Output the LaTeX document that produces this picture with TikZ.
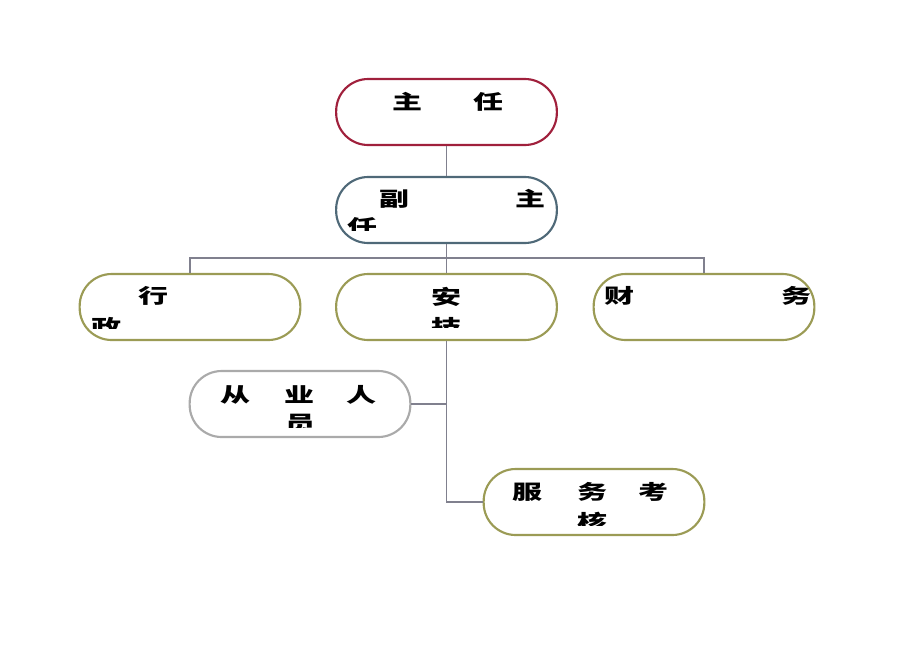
\documentclass[tikz,border=0pt]{standalone}
\usepackage{fontspec}
\newfontfamily\cjk[FakeStretch=1.5]{Noto Sans CJK SC}
\definecolor{redline}{RGB}{160,32,60}
\definecolor{slateline}{RGB}{79,105,120}
\definecolor{oliveline}{RGB}{155,155,85}
\definecolor{grayline}{RGB}{170,170,170}
\definecolor{connline}{RGB}{128,128,142}
\begin{document}
\begin{tikzpicture}[x=0.75pt,y=-0.75pt,
  box/.style={draw, line width=1.6pt, rounded corners=24pt, minimum width=165.5pt, minimum height=49.5pt, inner sep=0pt},
  conn/.style={draw=connline, line width=0.8pt},
  ch/.style={inner sep=0pt, font=\cjk\bfseries\fontsize{15pt}{15pt}\selectfont}]
\useasboundingbox (0,0) rectangle (920,651);
% boxes
\node[box, draw=redline]   (A) at (446.5,112) {};
\node[box, draw=slateline] (B) at (446.5,210) {};
\node[box, draw=oliveline] (C) at (190,307) {};
\node[box, draw=oliveline] (D) at (446.5,307) {};
\node[box, draw=oliveline] (E) at (704,307) {};
\node[box, draw=grayline]  (F) at (300,404) {};
\node[box, draw=oliveline] (G) at (594,502) {};
% connectors
\coordinate (bus) at (446.5,258);
\draw[conn] (A.south) -- (B.north);
\draw[conn] (B.south) -- (D.north);
\draw[conn] (C.north) |- (bus) -| (E.north);
\draw[conn] (D.south) |- (G.west);
\draw[conn] (F.east) -| (D.south);
% texts
\node[ch] (a1) at (407,102) {主};
\node[ch] (a2) at (488,102) {任};
\node[ch] (b1) at (394,199) {副};
\node[ch] (b2) at (530,199) {主};
\begin{scope}\clip (330,212) rectangle (400,230);
\node[ch] (b3) at (362,226.5) {任};\end{scope}
\node[ch] (c1) at (153,296) {行};
\begin{scope}\clip (75,312) rectangle (140,328);
\node[ch] (c2) at (106,326.5) {政};\end{scope}
\node[ch] (d1) at (446,297) {安};
\begin{scope}\clip (410,312) rectangle (480,327);
\node[ch] (d2) at (446,326.5) {技};\end{scope}
\node[ch] (e1) at (619,296) {财};
\node[ch] (e2) at (796,296) {务};
\node[ch] (f1) at (235,395) {从};
\node[ch] (f2) at (299,395) {业};
\node[ch] (f3) at (361,395) {人};
\begin{scope}\clip (270,410) rectangle (330,427);
\node[ch] (f4) at (300,423.5) {员};\end{scope}
\node[ch] (g1) at (527,492) {服};
\node[ch] (g2) at (592,492) {务};
\node[ch] (g3) at (653,492) {考};
\begin{scope}\clip (560,507) rectangle (625,525);
\node[ch] (g4) at (592,521.5) {核};\end{scope}
\end{tikzpicture}
\end{document}
